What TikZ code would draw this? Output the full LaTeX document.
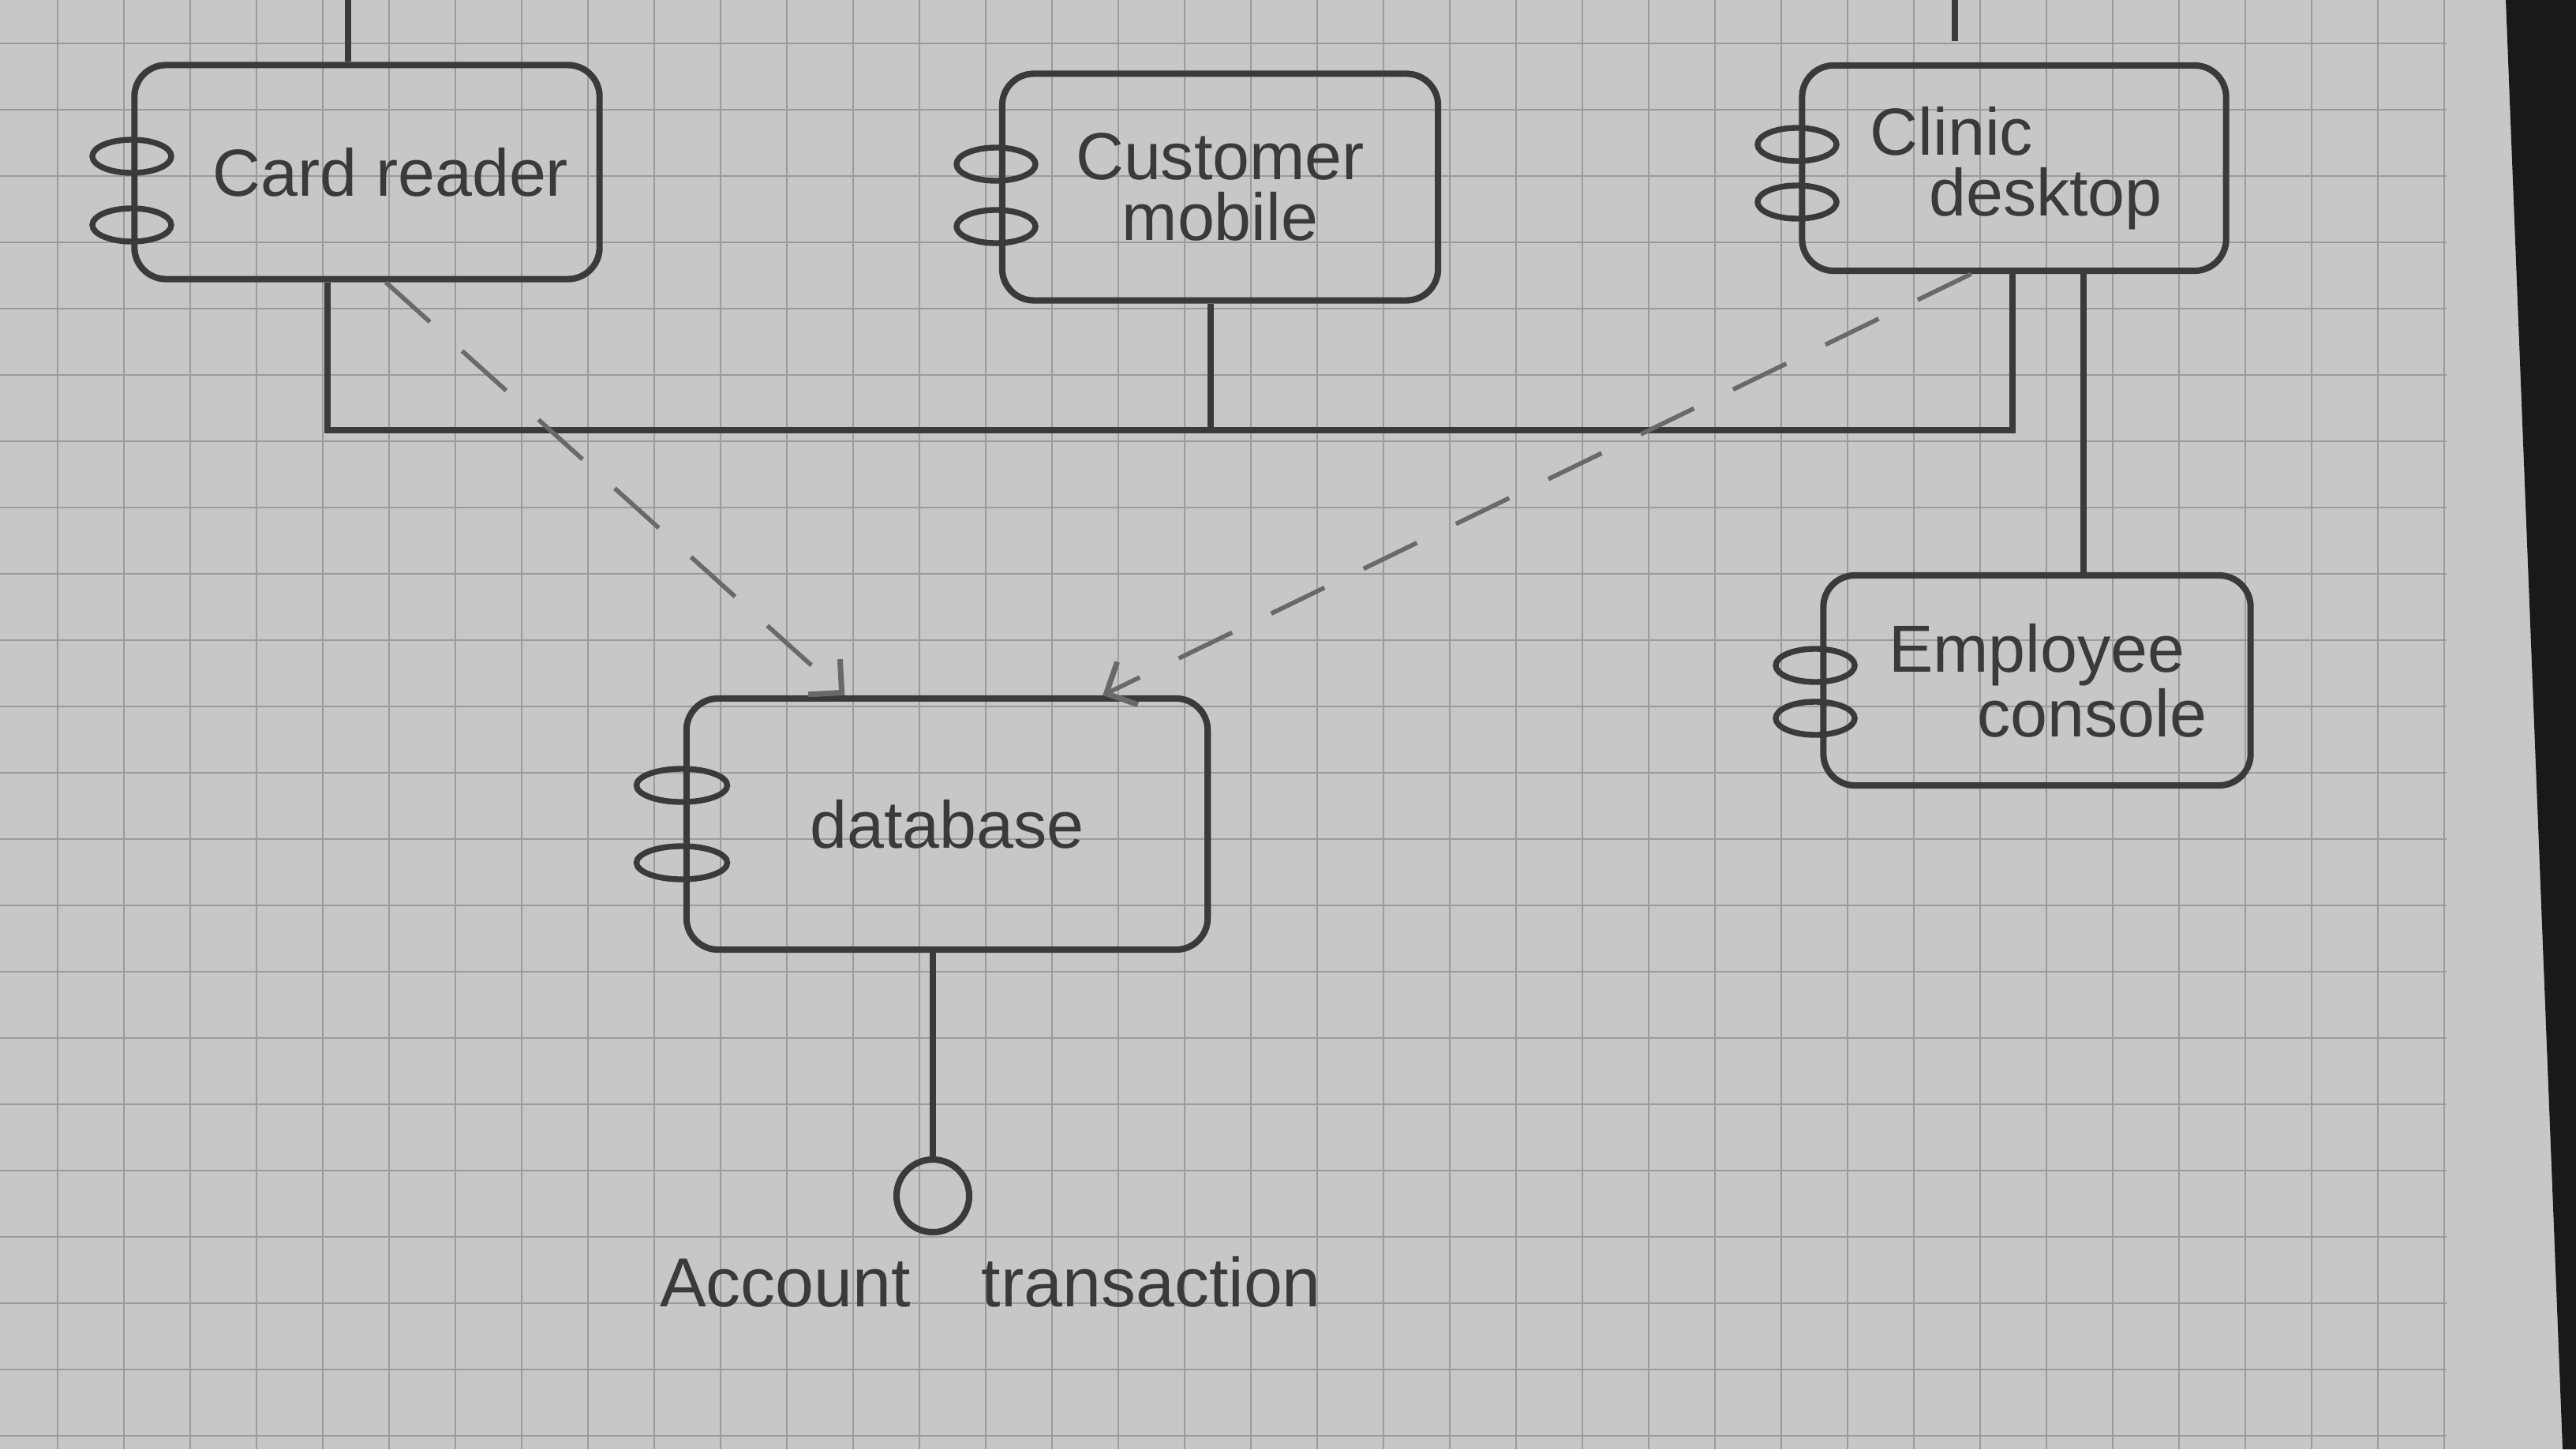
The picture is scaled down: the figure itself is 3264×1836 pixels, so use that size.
\documentclass[tikz,border=0pt]{standalone}
\usepackage{fontspec}
\setmainfont{Liberation Sans}
\usetikzlibrary{shapes.geometric,arrows.meta,calc}
\definecolor{paper}{RGB}{199,199,197}
\definecolor{gridc}{RGB}{155,155,155}
\definecolor{pencil}{RGB}{58,58,58}
\definecolor{faint}{RGB}{105,105,105}
\definecolor{desk}{RGB}{25,25,25}
\tikzset{
  comp/.style={draw=pencil, line width=2.3pt, rounded corners=0.4cm, inner sep=0pt,
    text=pencil, font=\fontsize{24}{22}\selectfont, align=center},
  port/.style={draw=pencil, line width=2.1pt, ellipse, inner sep=0pt,
    minimum width=1.0cm, minimum height=0.42cm},
  wire/.style={draw=pencil, line width=2.3pt},
  dep/.style={draw=faint, line width=1.6pt, dash pattern=on 0.75cm off 0.55cm,
    -{Straight Barb[length=0.3cm,width=0.6cm,line width=2pt]}},
  iface/.style={draw=pencil, line width=2.3pt, circle, inner sep=0pt, minimum size=0.92cm},
  lbl/.style={text=pencil, font=\fontsize{25}{30}\selectfont}
}
\begin{document}
\begin{tikzpicture}[x=0.01cm, y=-0.01cm]
\useasboundingbox (0,0) rectangle (3264,1836);
% paper
\fill[paper] (0,0) rectangle (3264,1836);
\foreach \k in {-8,...,28} \draw[gridc, line width=0.8pt] ({745+84*\k},0) -- ({745+84*\k},1836);
\foreach \k in {-9,...,12} \draw[gridc, line width=0.8pt] (0,{811+84*\k}) -- (3100,{811+84*\k});
\fill[desk] (3175,0) -- (3264,0) -- (3264,1836) -- (3247,1836) -- cycle;

% components
\node[comp, minimum width=5.89cm, minimum height=2.71cm] (cr) at (465,218) {\hspace*{0.6cm}Card reader};
\node[comp, minimum width=5.52cm, minimum height=2.87cm] (cm) at (1546,237) {Customer\\mobile};
\node[comp, minimum width=5.37cm, minimum height=2.60cm] (cd) at (2552,213) {Clinic\hspace*{1.58cm}\\\hspace*{0.8cm}desktop};
\node[comp, minimum width=5.41cm, minimum height=2.66cm] (ec) at (2581,862) {Employee\\\hspace*{1.4cm}console};
\node[comp, minimum width=6.60cm, minimum height=3.18cm] (db) at (1200,1044) {database};

% ports
\node[port] (cr1) at (167,198) {};
\node[port] (cr2) at (167,285) {};
\node[port] (cm1) at (1262,208) {};
\node[port] (cm2) at (1262,287) {};
\node[port] (cd1) at (2277,183) {};
\node[port] (cd2) at (2277,256) {};
\node[port] (ec1) at (2300,843) {};
\node[port] (ec2) at (2300,910) {};
\node[port, minimum width=1.15cm] (db1) at (864,995) {};
\node[port, minimum width=1.15cm] (db2) at (864,1093) {};

% top stubs
\coordinate (crtop) at (441,0);
\draw[wire] (crtop) -- (crtop |- cr.north);
\coordinate (cdtop) at (2477,0);
\coordinate (cdtopend) at (2477,52);
\draw[wire] (cdtop) -- (cdtopend);

% bus
\coordinate (busL) at (415,545);
\coordinate (busM) at (1534,545);
\coordinate (busR) at (2550,545);
\draw[wire] (busL |- cr.south) -- (busL) -- (busR) -- (busR |- cd.south);
\draw[wire] (busM |- cm.south) -- (busM);

% clinic desktop to employee console
\coordinate (ecx) at (2640,0);
\draw[wire] (ecx |- cd.south) -- (ecx |- ec.north);

% dependencies
\draw[dep] ($(cr.south west)!0.54!(cr.south east)$) -- ($(db.north west)!0.306!(db.north east)$);
\draw[dep] ($(cd.south west)!0.40!(cd.south east)$) -- ($(db.north west)!0.795!(db.north east)$);

% provided interface
\node[iface] (ai) at (1182,1515) {};
\draw[wire] (ai |- db.south) -- (ai.north);
\node[lbl] (ailbl) at (1255,1624) {Account\hspace{0.9cm}transaction};
\end{tikzpicture}
\end{document}
